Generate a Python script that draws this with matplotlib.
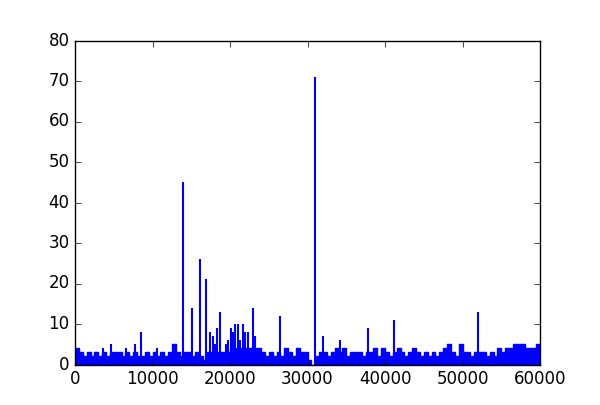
import numpy as np
import matplotlib
matplotlib.use('Agg')
import matplotlib.pyplot as plt

# base level of the dense signal, one value per 500-wide bin from 0 to 60000
bin_width = 500
base_levels = [4, 3, 2, 3, 2, 3, 2, 3, 2, 3,
               3, 3, 2, 3, 2, 3, 2, 2, 3, 2,
               3, 2, 3, 2, 3, 5, 3, 2, 3, 3,
               2, 3, 2, 1, 3, 3, 3, 3, 3, 3,
               4, 4, 4, 4, 3, 4, 4, 4, 3, 2,
               3, 2, 3, 2, 4, 3, 2, 4, 3, 3,
               1, 0, 2, 3, 3, 2, 3, 4, 3, 4,
               2, 3, 3, 3, 2, 3, 3, 4, 2, 4,
               3, 2, 3, 4, 3, 2, 3, 4, 3, 2,
               3, 2, 3, 2, 3, 4, 5, 3, 2, 5,
               3, 3, 2, 3, 3, 3, 2, 3, 2, 4,
               3, 4, 4, 5, 5, 5, 4, 4, 4, 5]

# isolated peaks above the base level
spike_x = [3650, 4690, 6540, 7700, 8560, 10540, 13950, 15050, 16150, 16950,
           17370, 17760, 18020, 18360, 18660, 19440, 19740, 20080, 20340, 20680,
           21030, 21330, 21630, 21970, 22280, 22960, 23220, 26500, 30980, 31950,
           34250, 37750, 41200, 48420, 49710, 51950]
spike_y = [4, 5, 4, 5, 8, 4, 45, 14, 26, 21,
           8, 7, 5, 9, 13, 5, 6, 9, 8, 10,
           10, 6, 10, 8, 8, 14, 7, 12, 71, 7,
           6, 9, 11, 5, 5, 13]

edges = np.arange(len(base_levels) + 1) * bin_width
levels = base_levels + [base_levels[-1]]

plt.style.use('classic')
fig = plt.figure(figsize=(6, 4.05), dpi=100)
ax = fig.add_subplot(111)
ax.fill_between(edges, levels, step='post', color='b', linewidth=0)
ax.step(edges, levels, where='post', color='b', linewidth=1)
ax.vlines(spike_x, 0, spike_y, colors='b', linewidth=1.5)
ax.set_xlim(0, 60000)
ax.set_ylim(0, 80)
fig.savefig('out.png', dpi=100)
